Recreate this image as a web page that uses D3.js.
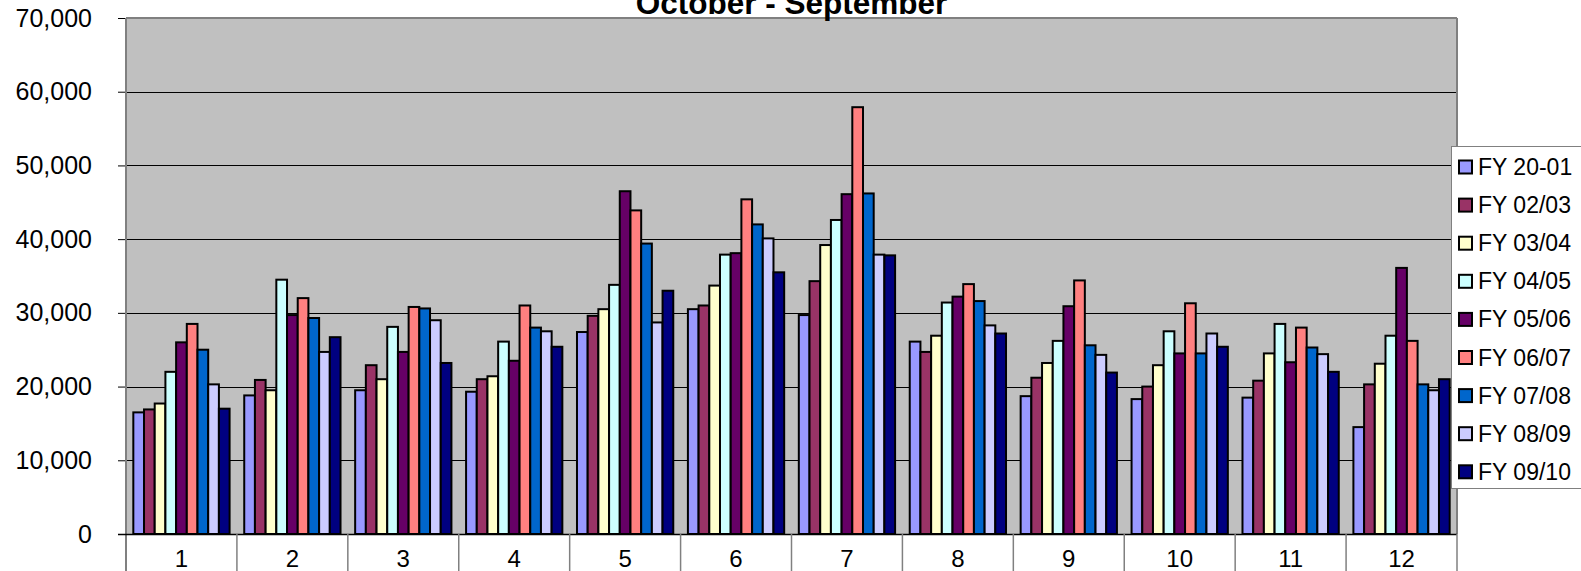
<!DOCTYPE html>
<html>
<head>
<meta charset="utf-8">
<script src="https://cdn.jsdelivr.net/npm/d3@7"></script>
<style>
  body { margin: 0; background: #fff; }
  text { font-family: Arial, "Liberation Sans", sans-serif; }
</style>
</head>
<body>
<script>
// data
const months = ["1", "2", "3", "4", "5", "6", "7", "8", "9", "10", "11", "12"];
const seriesNames = ["FY 20-01", "FY 02/03", "FY 03/04", "FY 04/05", "FY 05/06", "FY 06/07", "FY 07/08", "FY 08/09", "FY 09/10"];
const seriesColors = ["#9999FF", "#993366", "#FFFFCC", "#CCFFFF", "#660066", "#FF8080", "#0066CC", "#CCCCFF", "#000080"];

const fy2001 = [16500, 18800, 19500, 19300, 27400, 30500, 29700, 26100, 18700, 18300, 18500, 14500];
const fy0203 = [16900, 20900, 22900, 21000, 29600, 31000, 34300, 24700, 21200, 20000, 20800, 20300];
const fy0304 = [17700, 19500, 21000, 21400, 30500, 33700, 39200, 26900, 23200, 22900, 24500, 23100];
const fy0405 = [22000, 34500, 28100, 26100, 33800, 37900, 42600, 31400, 26200, 27500, 28500, 26900];
const fy0506 = [26000, 29700, 24700, 23500, 46500, 38100, 46100, 32200, 30900, 24500, 23300, 36100];
const fy0607 = [28500, 32000, 30800, 31000, 43900, 45400, 57900, 33900, 34400, 31300, 28000, 26200];
const fy0708 = [25000, 29300, 30600, 28000, 39400, 42000, 46200, 31600, 25600, 24500, 25300, 20300];
const fy0809 = [20300, 24700, 29000, 27500, 28700, 40100, 37900, 28300, 24300, 27200, 24400, 19500];
const fy0910 = [17000, 26700, 23200, 25400, 33000, 35500, 37800, 27200, 21900, 25400, 22000, 21000];

const allSeries = [fy2001, fy0203, fy0304, fy0405, fy0506, fy0607, fy0708, fy0809, fy0910];
const yTicks = [0, 10000, 20000, 30000, 40000, 50000, 60000, 70000];

const W = 1581, H = 571;
const pLeft = 126, pRight = 1457, pTop = 18, pBottom = 534;

let svg = d3.select("body").append("svg").attr("width", W).attr("height", H);

let x = d3.scaleBand().domain(months).range([pLeft, pRight]);
let bw = x.bandwidth();
let x1 = d3.scaleBand().domain(d3.range(9)).range([bw * 0.066, bw * 0.934]);
let y = d3.scaleLinear().domain([0, 70000]).range([pBottom, pTop]);

// plot area
svg.append("rect").attr("x", pLeft).attr("y", pTop).attr("width", pRight - pLeft).attr("height", pBottom - pTop)
  .attr("fill", "#C0C0C0");

// gridlines + ticks
svg.append("g").selectAll("line").data(yTicks.slice(1, -1)).join("line")
  .attr("x1", pLeft).attr("x2", pRight)
  .attr("y1", d => Math.round(y(d)) + 0.5).attr("y2", d => Math.round(y(d)) + 0.5)
  .attr("stroke", "#000").attr("stroke-width", 1);

let yAxis = d3.axisLeft(y).tickValues(yTicks).tickSize(8).tickPadding(26).tickFormat(d3.format(","));
let ya = svg.append("g").attr("transform", `translate(${pLeft},0)`).call(yAxis);
ya.select(".domain").remove();
ya.selectAll("line").attr("stroke", "#000");
ya.selectAll("text").attr("font-size", 25).attr("fill", "#000").attr("font-family", "Arial, 'Liberation Sans', sans-serif");

// bars
let groups = svg.append("g").selectAll("g").data(months).join("g")
  .attr("transform", d => `translate(${x(d)},0)`);
groups.selectAll("rect").data((m, i) => allSeries.map((s, k) => ({ k: k, v: s[i] }))).join("rect")
  .attr("x", d => x1(d.k))
  .attr("width", x1.bandwidth())
  .attr("y", d => y(d.v))
  .attr("height", d => y(0) - y(d.v))
  .attr("fill", d => seriesColors[d.k])
  .attr("stroke", "#000").attr("stroke-width", 2);

// plot border
svg.append("line").attr("x1", pLeft).attr("x2", pRight).attr("y1", pTop).attr("y2", pTop)
  .attr("stroke", "#808080").attr("stroke-width", 2);
svg.append("line").attr("x1", pRight).attr("x2", pRight).attr("y1", pTop).attr("y2", pBottom)
  .attr("stroke", "#808080").attr("stroke-width", 2);
svg.append("line").attr("x1", pLeft).attr("x2", pLeft).attr("y1", pTop).attr("y2", H)
  .attr("stroke", "#808080").attr("stroke-width", 2);
svg.append("line").attr("x1", pLeft - 8).attr("x2", pRight).attr("y1", pBottom + 0.5).attr("y2", pBottom + 0.5)
  .attr("stroke", "#000").attr("stroke-width", 1.5);

// category separators and labels
svg.append("g").selectAll("line").data(months.slice(1).concat(["end"])).join("line")
  .attr("x1", d => d == "end" ? pRight : x(d)).attr("x2", d => d == "end" ? pRight : x(d))
  .attr("y1", pBottom).attr("y2", H)
  .attr("stroke", "#808080").attr("stroke-width", 1.5);
svg.append("g").selectAll("text").data(months).join("text")
  .attr("x", d => x(d) + bw / 2).attr("y", 567)
  .attr("text-anchor", "middle").attr("font-size", 24).text(d => d);

// title (its top is cut off by the frame, as in the original)
svg.append("text").attr("x", (pLeft + pRight) / 2).attr("y", 14)
  .attr("text-anchor", "middle").attr("font-size", 31.5).attr("font-weight", "bold")
  .text("October - September");

// legend
let lg = svg.append("g");
lg.append("rect").attr("x", 1451.5).attr("y", 146.5).attr("width", 140).attr("height", 342)
  .attr("fill", "#fff").attr("stroke", "#808080").attr("stroke-width", 1);
let items = lg.selectAll("g").data(seriesNames).join("g")
  .attr("transform", (d, i) => `translate(1459,${167 + i * 38.1})`);
items.append("rect").attr("x", 0).attr("y", -6.5).attr("width", 13).attr("height", 13)
  .attr("fill", (d, i) => seriesColors[i]).attr("stroke", "#000").attr("stroke-width", 2);
items.append("text").attr("x", 19).attr("y", 8).attr("font-size", 23).text(d => d);
</script>
</body>
</html>
